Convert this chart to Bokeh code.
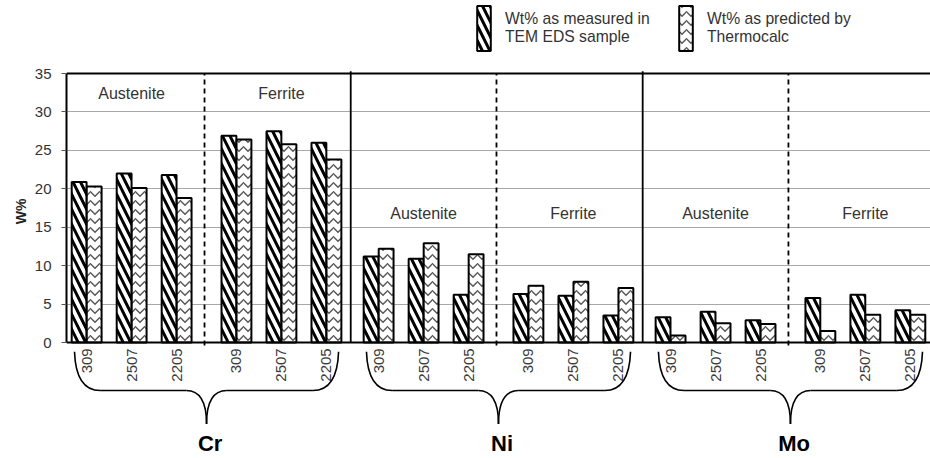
import math
from bokeh.plotting import figure
from bokeh.models import (FactorRange, Range1d, ColumnDataSource, FixedTicker, Span,
                          Legend, LegendItem, Title)
from bokeh.transform import dodge
from bokeh.core.properties import value
from bokeh.embed import file_html
from bokeh.resources import INLINE

# ---------------- data ----------------
elements = ["Cr", "Ni", "Mo"]
phases = ["Austenite", "Ferrite"]
alloys = ["309", "2507", "2205"]

# order: Austenite 309, 2507, 2205, Ferrite 309, 2507, 2205
measured_cr = [20.9, 22.0, 21.8, 26.9, 27.5, 26.0]
predicted_cr = [20.3, 20.1, 18.8, 26.4, 25.8, 23.8]
measured_ni = [11.2, 10.9, 6.2, 6.3, 6.1, 3.5]
predicted_ni = [12.2, 12.9, 11.5, 7.4, 7.9, 7.1]
measured_mo = [3.3, 4.0, 2.9, 5.8, 6.2, 4.2]
predicted_mo = [0.9, 2.5, 2.4, 1.5, 3.6, 3.6]

y_ticks = [0, 5, 10, 15, 20, 25, 30, 35]
y_label = "W%"
legend_line1 = ["Wt% as measured in", "Wt% as predicted by"]
legend_line2 = ["TEM EDS sample", "Thermocalc"]

# ---------------- build ----------------
FONT = "Liberation Sans"
factors = [(e, ph, a) for e in elements for ph in phases for a in alloys]
measured = measured_cr + measured_ni + measured_mo
predicted = predicted_cr + predicted_ni + predicted_mo

src = ColumnDataSource(dict(x=factors, measured=measured, predicted=predicted,
                            alloy=[f[2] for f in factors]))

x_range = FactorRange(factors=factors, factor_padding=0.0, subgroup_padding=0.33,
                      group_padding=0.16, range_padding=-0.052,
                      range_padding_units="absolute")

p = figure(width=930, height=458, x_range=x_range, y_range=Range1d(-15.09, 44.5),
           x_axis_location=None, output_backend="svg", toolbar_location=None,
           min_border_left=66, min_border_right=0, min_border_top=0, min_border_bottom=0)
p.outline_line_color = None
p.background_fill_color = "white"
p.border_fill_color = "white"

p.xgrid.visible = False
p.ygrid.ticker = FixedTicker(ticks=y_ticks[1:-1])
p.ygrid.grid_line_color = "#a8a8a8"
p.ygrid.grid_line_width = 1

ax = p.yaxis[0]
ax.ticker = FixedTicker(ticks=y_ticks)
ax.bounds = (0, 35)
ax.axis_line_width = 2
ax.axis_line_color = "black"
ax.major_tick_out = 5
ax.major_tick_in = 0
ax.major_tick_line_color = "#555555"
ax.minor_tick_line_color = None
ax.major_label_text_font = FONT
ax.major_label_text_font_size = "15px"
ax.major_label_text_color = "#333333"
ax.major_label_standoff = 10

# y axis title, placed beside the 0-35 span
p.add_layout(Title(text=y_label, align="right", offset=198, text_font=FONT,
                   text_font_style="bold", text_font_size="14px", text_color="#222222",
                   standoff=6), "left")

# bars
r_meas = p.vbar(x=dodge("x", -0.167, range=p.x_range), top="measured", width=0.33, source=src,
                fill_color="white", line_color="black", line_width=2,
                hatch_pattern="\\", hatch_color="black", hatch_weight=3, hatch_scale=15)
r_pred = p.vbar(x=dodge("x", 0.167, range=p.x_range), top="predicted", width=0.33, source=src,
                fill_color="white", line_color="black", line_width=2,
                hatch_pattern="v", hatch_color="#555555", hatch_weight=1.3, hatch_scale=9)

# frame lines
p.add_layout(Span(location=0, dimension="width", line_color="black", line_width=2))
p.add_layout(Span(location=35, dimension="width", line_color="black", line_width=2))

# separators
phase_sep = ColumnDataSource(dict(x=[(e, phases[0], alloys[-1]) for e in elements]))
p.segment(x0=dodge("x", 0.62, range=p.x_range), x1=dodge("x", 0.62, range=p.x_range),
          y0=-0.4, y1=35, source=phase_sep, line_color="black", line_width=1.8,
          line_dash="5 4")
elem_sep = ColumnDataSource(dict(x=[(e, phases[-1], alloys[-1]) for e in elements[:-1]]))
p.segment(x0=dodge("x", 0.54, range=p.x_range), x1=dodge("x", 0.54, range=p.x_range),
          y0=0, y1=35.3, source=elem_sep, line_color="black", line_width=1.8)

# phase labels inside plot
phase_y = {"Cr": 32.45, "Ni": 16.8, "Mo": 16.8}
pl_src = ColumnDataSource(dict(x=[(e, ph) for e in elements for ph in phases],
                               y=[phase_y[e] for e in elements for ph in phases],
                               t=[ph for e in elements for ph in phases]))
p.text(x="x", y="y", text="t", source=pl_src, text_align="center", text_baseline="middle",
       text_font=value(FONT), text_font_size="16px", text_color="#333333")

# alloy tick labels (rotated)
p.text(x="x", y=-0.75, text="alloy", source=src, angle=math.pi / 2, text_align="right",
       text_baseline="middle", text_font=value(FONT), text_font_size="15px",
       text_color="#3a3a3a")

# braces under each element
br = ColumnDataSource(dict(first=[(e, phases[0], alloys[0]) for e in elements],
                           last=[(e, phases[-1], alloys[-1]) for e in elements],
                           elem=elements))
end_y, mid_y, cusp_y = -1.2, -6.25, -10.6
bstyle = dict(line_color="black", line_width=1.6, source=br)
rng = p.x_range
# left half
p.quadratic(x0=dodge("first", -0.27, range=rng), y0=end_y,
            cx=dodge("first", -0.24, range=rng), cy=mid_y,
            x1=dodge("first", 0.3, range=rng), y1=mid_y, **bstyle)
p.segment(x0=dodge("first", 0.3, range=rng), y0=mid_y,
          x1=dodge("elem", -0.45, range=rng), y1=mid_y, **bstyle)
p.quadratic(x0=dodge("elem", -0.45, range=rng), y0=mid_y,
            cx=dodge("elem", 0.0, range=rng), cy=mid_y,
            x1=dodge("elem", 0.0, range=rng), y1=cusp_y, **bstyle)
# right half
p.quadratic(x0=dodge("last", 0.27, range=rng), y0=end_y,
            cx=dodge("last", 0.24, range=rng), cy=mid_y,
            x1=dodge("last", -0.3, range=rng), y1=mid_y, **bstyle)
p.segment(x0=dodge("last", -0.3, range=rng), y0=mid_y,
          x1=dodge("elem", 0.45, range=rng), y1=mid_y, **bstyle)
p.quadratic(x0=dodge("elem", 0.45, range=rng), y0=mid_y,
            cx=dodge("elem", 0.0, range=rng), cy=mid_y,
            x1=dodge("elem", 0.0, range=rng), y1=cusp_y, **bstyle)

# element labels
el_src = ColumnDataSource(dict(elem=elements))
p.text(x=dodge("elem", 0.08, range=rng), y=-13.14, text="elem", source=el_src,
       text_align="center", text_baseline="middle", text_font=value(FONT),
       text_font_size="22px", text_font_style="bold", text_color="black")

# ---------------- legend ----------------
# swatches (linked to the real bar renderers) + two text rows sharing the same geometry
blank = [p.vbar(x=[], top=[], width=0.1, fill_alpha=0, line_alpha=0) for _ in range(2)]
common = dict(orientation="horizontal", glyph_width=17, label_standoff=13, label_width=160,
              spacing=12, padding=0, margin=0, border_line_color=None,
              background_fill_alpha=0, label_text_font=FONT, label_text_font_size="15.7px",
              label_text_color="#333333")

swatches = Legend(items=[LegendItem(label=value(" "), renderers=[r_meas]),
                         LegendItem(label=value(" "), renderers=[r_pred])],
                  location=(409, 402), glyph_height=56, **common)
row1 = Legend(items=[LegendItem(label=value(legend_line1[0]), renderers=[blank[0]]),
                     LegendItem(label=value(legend_line1[1]), renderers=[blank[1]])],
              location=(409, 430), glyph_height=18, label_height=18, **common)
row2 = Legend(items=[LegendItem(label=value(legend_line2[0]), renderers=[blank[0]]),
                     LegendItem(label=value(legend_line2[1]), renderers=[blank[1]])],
              location=(409, 412), glyph_height=18, label_height=18, **common)
for lg in (swatches, row1, row2):
    p.add_layout(lg)

open("out.html", "w").write(file_html(p, INLINE))
